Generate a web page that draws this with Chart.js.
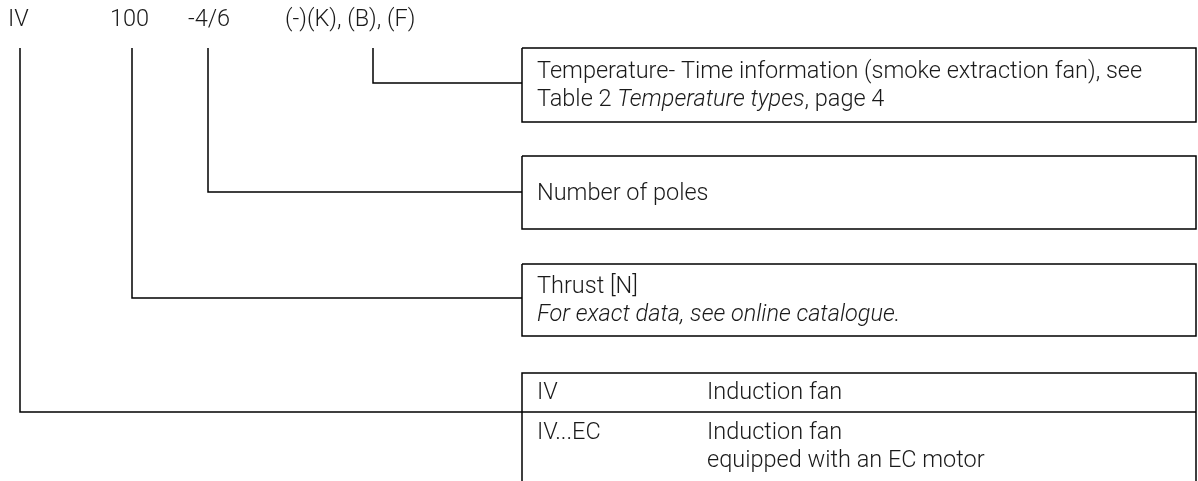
<!DOCTYPE html>
<html>
<head>
<meta charset="utf-8">
<script src="https://cdn.jsdelivr.net/npm/chart.js@4.4.1/dist/chart.umd.min.js"></script>
<style>
  html, body { margin: 0; padding: 0; background: #fff; }
  #wrap { width: 1198px; height: 481px; }
</style>
</head>
<body>
<div id="wrap"><canvas id="diagrama" width="1198" height="481"></canvas></div>
<script>
// ---- datos del codigo de producto (unidades del grafico = px del dibujo) ----
const codigos = ["IV", "100", "-4/6", "(-)(K), (B), (F)"];
const codigosX = [8, 110, 188, 285];
const codigosY = 20;

// lineas de referencia: x de salida, y del codo
const salidaX = [20, 132, 208, 373];
const codoY = [412, 298, 192, 83];
const inicioLineaY = 48;

// cajas de descripcion (arriba, abajo)
const cajaIzq = 522;
const cajaDer = 1196;
const cajasTop = [48, 156, 264];
const cajasBottom = [122, 229, 336];
const tablaTop = 373;
const tablaDiv = 412;
const tablaFin = 481;

// textos de cada caja: lineas, cada linea como trozos [texto, cursiva]
const textosCajas = [
  [[["Temperature- Time information (smoke extraction fan), see", false]],
   [["Table 2 ", false], ["Temperature types", true], [", page 4", false]]],
  [[["Number of poles", false]]],
  [[["Thrust [N]", false]],
   [["For exact data, see online catalogue.", true]]],
];
const textoX = 537;
const tablaCol2X = 707;
const tablaFilas = [
  { codigo: "IV", desc: ["Induction fan"], base: 399 },
  { codigo: "IV...EC", desc: ["Induction fan", "equipped with an EC motor"], base: 439 },
];
const interlinea = 28;

const FUENTE = "Roboto";
const TAM = 23.5;

// ---- construir datasets (polilineas) ----
const linea = (pts) => ({
  type: "line",
  data: pts.map(([x, y]) => ({ x, y })),
  showLine: true,
  borderColor: "#000",
  borderWidth: 1.5,
  pointRadius: 0,
  fill: false,
  tension: 0,
});

const datasets = [];
// conectores
salidaX.forEach((x, i) => {
  datasets.push(linea([[x, inicioLineaY], [x, codoY[i]], [cajaIzq, codoY[i]]]));
});
// cajas
cajasTop.forEach((t, i) => {
  const b = cajasBottom[i];
  datasets.push(linea([[cajaIzq, t], [cajaDer, t], [cajaDer, b], [cajaIzq, b], [cajaIzq, t]]));
});
// tabla
datasets.push(linea([[cajaIzq, tablaFin], [cajaIzq, tablaTop], [cajaDer, tablaTop], [cajaDer, tablaFin]]));
datasets.push(linea([[cajaIzq, tablaDiv], [cajaDer, tablaDiv]]));

// ---- plugin de textos ----
const textosPlugin = {
  id: "textos",
  afterDatasetsDraw(chart) {
    const { ctx, scales } = chart;
    const px = (v) => scales.x.getPixelForValue(v);
    const py = (v) => scales.y.getPixelForValue(v);
    ctx.save();
    ctx.fillStyle = "#1a1a1a";
    const fuente = (it) => `${it ? "italic " : ""}300 ${TAM}px ${FUENTE}`;

    ctx.textBaseline = "middle";
    codigos.forEach((c, i) => {
      ctx.font = fuente(false);
      ctx.fillText(c, px(codigosX[i]), py(codigosY));
    });

    ctx.textBaseline = "alphabetic";
    textosCajas.forEach((lineas, i) => {
      const centro = (cajasTop[i] + cajasBottom[i]) / 2;
      const primera = centro + 7 - ((lineas.length - 1) * interlinea) / 2;
      lineas.forEach((trozos, j) => {
        let x = px(textoX);
        const y = py(primera + j * interlinea);
        trozos.forEach(([t, it]) => {
          ctx.font = fuente(it);
          ctx.fillText(t, x, y);
          x += ctx.measureText(t).width;
        });
      });
    });

    tablaFilas.forEach((f) => {
      ctx.font = fuente(false);
      ctx.fillText(f.codigo, px(textoX), py(f.base));
      f.desc.forEach((d, j) => {
        ctx.fillText(d, px(tablaCol2X), py(f.base + j * interlinea));
      });
    });
    ctx.restore();
  },
};

new Chart(document.getElementById("diagrama"), {
  type: "scatter",
  data: { datasets },
  options: {
    responsive: false,
    animation: false,
    layout: { padding: 0 },
    plugins: { legend: { display: false }, tooltip: { enabled: false } },
    scales: {
      x: { type: "linear", min: 0, max: 1198, display: false },
      y: { type: "linear", min: 0, max: 481, reverse: true, display: false },
    },
  },
  plugins: [textosPlugin],
});
</script>
</body>
</html>
